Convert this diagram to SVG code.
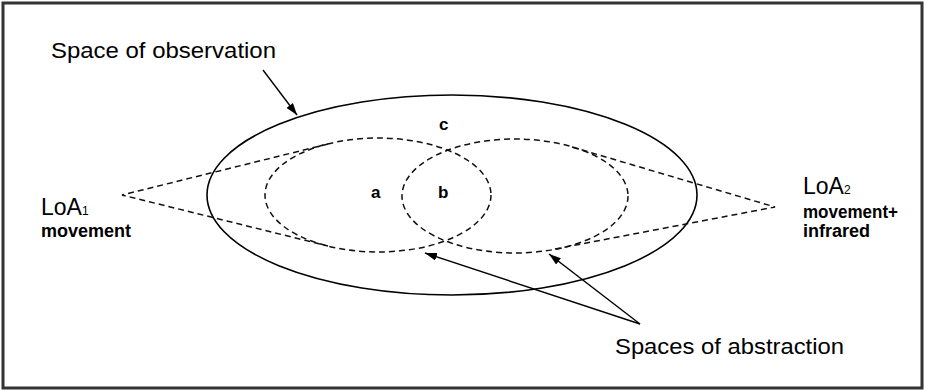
<svg xmlns="http://www.w3.org/2000/svg" width="925" height="391" viewBox="0 0 925 391">
<defs>
<style>
.solid{fill:none;stroke:#000;stroke-width:1.6}
.dash{fill:none;stroke:#111;stroke-width:1.5;stroke-dasharray:6 4}
.arrow{fill:none;stroke:#000;stroke-width:1.4;marker-end:url(#ah)}
.lbl{font-family:"Liberation Sans",Arial,sans-serif;fill:#000}
.big{font-size:22px}
.bold{font-size:18px;font-weight:bold}
.let{font-size:17px;font-weight:bold}
</style>
<marker id="ah" viewBox="0 0 12 8" refX="12" refY="4" markerWidth="12" markerHeight="8" markerUnits="userSpaceOnUse" orient="auto">
<path d="M0,0 L12,4 L0,8 Z" fill="#000"/>
</marker>
</defs>
<rect x="3" y="3" width="919" height="385" fill="#fff" stroke="#333" stroke-width="3"/>
<g id="observation">
<ellipse class="solid" cx="452" cy="195" rx="245" ry="100"/>
<text class="lbl big" x="51" y="58" textLength="225" lengthAdjust="spacingAndGlyphs">Space of observation</text>
</g>
<g id="abstraction1">
<ellipse class="dash" cx="378" cy="195" rx="113" ry="57"/>
</g>
<g id="abstraction2">
<ellipse class="dash" cx="515" cy="196" rx="113" ry="57"/>
</g>
<g id="loa1">
<text class="lbl" x="41" y="215"><tspan style="font-size:23px">LoA</tspan><tspan style="font-size:12px">1</tspan></text>
<text class="lbl bold" x="41" y="237">movement</text>
</g>
<g id="loa2">
<text class="lbl" x="803" y="194"><tspan style="font-size:23px">LoA</tspan><tspan style="font-size:12px">2</tspan></text>
<text class="lbl bold" x="803" y="218" textLength="95" lengthAdjust="spacingAndGlyphs">movement+</text>
<text class="lbl bold" x="803" y="237">infrared</text>
</g>
<g id="regions">
<text class="lbl let" x="439" y="130">c</text>
<text class="lbl let" x="371" y="198">a</text>
<text class="lbl let" x="438" y="198">b</text>
</g>
<g id="abstraction-label">
<text class="lbl big" x="615" y="354" textLength="229" lengthAdjust="spacingAndGlyphs">Spaces of abstraction</text>
</g>
<g id="connectors">
<path class="dash" d="M328,144 L122,195 L328,246"/>
<path class="dash" d="M572,147 L775,207 L555,249"/>
<line class="arrow" x1="263" y1="70" x2="297" y2="115"/>
<line class="arrow" x1="640" y1="324" x2="425" y2="253"/>
<line class="arrow" x1="640" y1="324" x2="549" y2="254"/>
</g>
</svg>
